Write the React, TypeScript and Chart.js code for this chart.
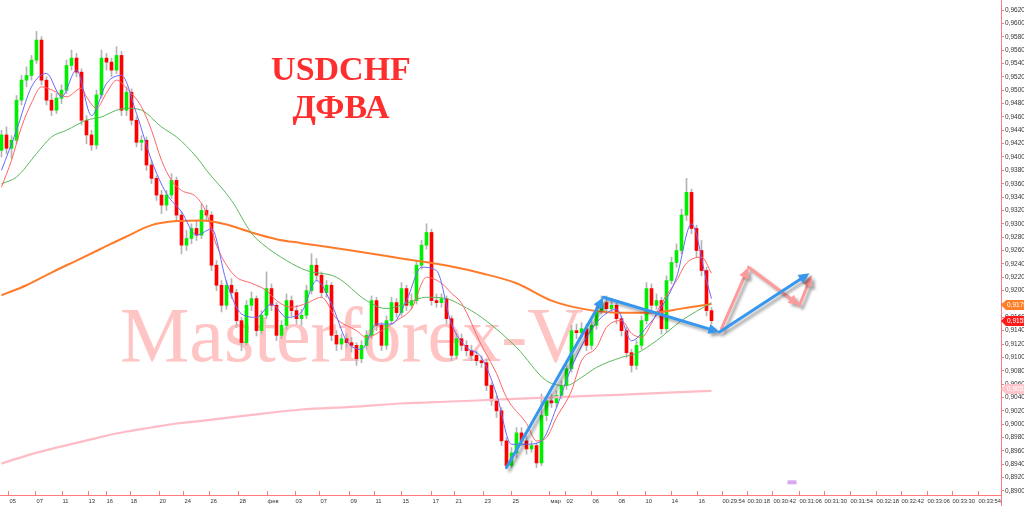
import React, { useEffect, useRef } from 'react';
import { Chart, registerables } from 'chart.js';

Chart.register(...registerables);

// prices are stored in pips (price * 10000)
const PIP = 10000;
const firstOpenPips = 9410;
const closePips = [
  9433, 9413, 9425, 9485, 9515, 9522, 9545, 9575, 9515, 9485,
  9470, 9488, 9500, 9537, 9548, 9527, 9455, 9433, 9418, 9493,
  9548, 9542, 9530, 9552, 9470, 9497, 9455, 9422, 9425, 9388,
  9368, 9343, 9328, 9343, 9365, 9313, 9268, 9278, 9293, 9283,
  9320, 9313, 9238, 9208, 9178, 9208, 9197, 9155, 9122, 9178,
  9188, 9140, 9163, 9203, 9178, 9133, 9148, 9185, 9170, 9158,
  9163, 9200, 9238, 9223, 9197, 9208, 9133, 9120, 9128, 9122,
  9118, 9098, 9118, 9133, 9185, 9148, 9118, 9155, 9182, 9167,
  9203, 9178, 9185, 9238, 9268, 9287, 9185, 9182, 9188, 9158,
  9103, 9128, 9118, 9110, 9103, 9095, 9092, 9058, 9035, 9020,
  8975, 8938, 8957, 8987, 8975, 8963, 8968, 8942, 9013, 9035,
  9032, 9043, 9058, 9083, 9140, 9137, 9143, 9118, 9148, 9170,
  9182, 9173, 9178, 9158, 9140, 9107, 9088, 9118, 9155, 9203,
  9178, 9185, 9143, 9215, 9242, 9260, 9313, 9347, 9293, 9260,
  9230, 9170, 9155,
];
const highPips = [
  9440, 9445, 9432, 9492, 9522, 9535, 9552, 9588, 9580, 9520,
  9495, 9495, 9508, 9545, 9560, 9555, 9532, 9462, 9440, 9500,
  9560, 9555, 9548, 9565, 9558, 9505, 9502, 9460, 9432, 9430,
  9395, 9372, 9350, 9350, 9375, 9370, 9318, 9290, 9300, 9305,
  9330, 9328, 9318, 9245, 9215, 9215, 9218, 9202, 9160, 9185,
  9198, 9192, 9170, 9228, 9210, 9182, 9155, 9195, 9192, 9178,
  9172, 9208, 9255, 9248, 9228, 9215, 9212, 9140, 9135, 9135,
  9130, 9122, 9125, 9140, 9192, 9190, 9152, 9162, 9190, 9188,
  9212, 9208, 9195, 9245, 9275, 9300, 9292, 9195, 9195, 9192,
  9162, 9135, 9135, 9125, 9118, 9110, 9102, 9098, 9062, 9042,
  9025, 8980, 8965, 8995, 8995, 8982, 8975, 8972, 9045, 9042,
  9045, 9050, 9065, 9090, 9148, 9150, 9152, 9150, 9155, 9178,
  9192, 9192, 9188, 9182, 9162, 9145, 9112, 9125, 9162, 9212,
  9210, 9195, 9190, 9222, 9250, 9270, 9322, 9368, 9352, 9298,
  9275, 9235, 9175,
];
const lowPips = [
  9400, 9405, 9398, 9420, 9478, 9505, 9515, 9540, 9508, 9478,
  9462, 9465, 9480, 9495, 9530, 9520, 9448, 9420, 9410, 9412,
  9488, 9530, 9520, 9525, 9462, 9462, 9448, 9415, 9410, 9380,
  9360, 9335, 9315, 9320, 9338, 9305, 9255, 9260, 9270, 9275,
  9278, 9305, 9230, 9200, 9168, 9172, 9188, 9145, 9110, 9118,
  9170, 9132, 9135, 9158, 9170, 9125, 9128, 9142, 9162, 9150,
  9148, 9158, 9195, 9215, 9190, 9190, 9125, 9110, 9112, 9115,
  9108, 9088, 9092, 9112, 9128, 9140, 9110, 9112, 9150, 9160,
  9162, 9170, 9172, 9180, 9232, 9262, 9178, 9175, 9175, 9150,
  9095, 9098, 9110, 9102, 9095, 9088, 9085, 9050, 9028, 9010,
  8968, 8935, 8935, 8950, 8968, 8955, 8958, 8935, 8938, 9005,
  9025, 9025, 9038, 9052, 9078, 9128, 9130, 9110, 9112, 9142,
  9165, 9165, 9168, 9150, 9132, 9100, 9078, 9082, 9112, 9150,
  9170, 9172, 9135, 9138, 9210, 9235, 9255, 9305, 9285, 9250,
  9222, 9162, 9150,
];

// moving averages (bar index, pips)
const blueIdx = [0, 3, 6, 9, 12, 15, 18, 21, 24, 27, 30, 33, 36, 39, 42, 45, 48, 51, 54, 57, 60, 63, 66, 69, 72, 75, 78, 81, 84, 87, 90, 93, 96, 99, 102, 105, 108, 111, 114, 117, 120, 123, 126, 129, 132, 135, 138, 141, 142];
const bluePips = [9380, 9440, 9505, 9525, 9490, 9530, 9462, 9510, 9522, 9465, 9395, 9345, 9318, 9283, 9292, 9213, 9165, 9160, 9180, 9160, 9168, 9215, 9180, 9125, 9112, 9150, 9150, 9185, 9235, 9230, 9150, 9115, 9100, 9045, 8970, 8970, 8975, 9025, 9085, 9130, 9160, 9172, 9125, 9145, 9175, 9220, 9300, 9215, 9188];

const redIdx = [0, 2, 4, 6, 8, 11, 13, 16, 17, 19, 21, 23, 25, 28, 30, 32, 34, 36, 39, 41, 43, 45, 47, 50, 53, 55, 58, 61, 64, 67, 71, 73, 76, 79, 82, 85, 88, 90, 92, 96, 99, 101, 105, 107, 109, 111, 114, 116, 119, 121, 124, 126, 128, 130, 132, 135, 137, 140, 142];
const redPips = [9355, 9395, 9445, 9481, 9505, 9497, 9490, 9503, 9490, 9473, 9496, 9515, 9503, 9475, 9440, 9395, 9365, 9350, 9340, 9316, 9268, 9238, 9220, 9211, 9200, 9185, 9175, 9181, 9190, 9158, 9140, 9130, 9140, 9155, 9173, 9220, 9211, 9196, 9181, 9118, 9076, 9040, 9001, 8975, 8980, 9010, 9050, 9095, 9115, 9145, 9155, 9136, 9130, 9151, 9181, 9215, 9241, 9250, 9226];

const greenIdx = [0, 3, 7, 10, 13, 17, 20, 23, 25, 28, 32, 35, 39, 41, 46, 50, 52, 57, 61, 67, 73, 77, 81, 85, 89, 92, 96, 103, 109, 113, 116, 119, 124, 127, 131, 136, 142];
const greenPips = [9360, 9370, 9405, 9430, 9440, 9455, 9460, 9470, 9473, 9470, 9445, 9430, 9400, 9380, 9335, 9286, 9271, 9245, 9230, 9220, 9185, 9173, 9181, 9190, 9188, 9178, 9160, 9115, 9065, 9058, 9070, 9085, 9100, 9106, 9125, 9155, 9182];

const orangeIdx = [0, 5, 10, 15, 20, 25, 30, 35, 40, 45, 50, 55, 60, 70, 80, 90, 96, 103, 110, 116, 123, 130, 136, 142];
const orangePips = [9193, 9208, 9227, 9245, 9263, 9281, 9298, 9304, 9305, 9299, 9287, 9277, 9271, 9260, 9248, 9236, 9226, 9211, 9185, 9173, 9167, 9167, 9173, 9180];

const pinkIdx = [0, 5, 10, 15, 20, 25, 30, 35, 40, 50, 60, 70, 80, 90, 100, 110, 120, 130, 142];
const pinkPips = [8941, 8953, 8963, 8972, 8981, 8989, 8995, 9001, 9005, 9014, 9022, 9026, 9031, 9034, 9037, 9040, 9043, 9046, 9050];

// drawn arrows (bar index, pips)
const blueArrowIdx = [101, 120.4, 143.6, 161.6];
const blueArrowPips = [8935, 9190, 9138, 9226];
const pinkArrowIdx = [144, 149.4, 159.6, 162];
const pinkArrowPips = [9143, 9235, 9178, 9223];
const markerIdx = [157.2, 159.0];
const markerPips = [8916, 8910];

// axis ticks
const xTickIdx = [1.4, 6.8, 12, 17.2, 20.8, 25.6, 31.4, 36.4, 41.6, 47.4, 53, 58.6, 63.6, 69.6, 74.6, 80, 86, 90.6, 96.4, 102, 109.6, 112.8, 118, 123.2, 128.6, 133.8, 139.2, 144, 149, 154.2, 159.4, 164.4, 169.6, 174.8, 179.8, 185, 190, 195.2];
const xTickText = ['05', '07', '11', '13', '16', '18', '20', '24', '26', '28', 'фев', '03', '07', '09', '11', '15', '17', '21', '23', '25', 'мар', '02', '06', '08', '10', '14', '16', '00:29:54', '00:30:18', '00:30:42', '00:31:06', '00:31:30', '00:31:54', '00:32:18', '00:32:42', '00:33:06', '00:33:30', '00:33:54'];
const yTickValues = [0.8900, 0.8920, 0.8940, 0.8960, 0.8980, 0.9000, 0.9020, 0.9040, 0.9060, 0.9080, 0.9100, 0.9120, 0.9140, 0.9160, 0.9180, 0.9200, 0.9220, 0.9240, 0.9260, 0.9280, 0.9300, 0.9320, 0.9340, 0.9360, 0.9380, 0.9400, 0.9420, 0.9440, 0.9460, 0.9480, 0.9500, 0.9520, 0.9540, 0.9560, 0.9580, 0.9600, 0.9620];

const tagValues = [0.9179, 0.9155, 0.9052];
const tagColors = ['#ff7f27', '#ff1a1a', '#ffc4cc'];
const titleLines = ['USDCHF', 'ДФВА'];
const watermark = 'Masterforex-V';

const fmt = (v: number) => v.toFixed(4).replace('.', ',');

export default function App() {
  const ref = useRef<HTMLCanvasElement | null>(null);

  useEffect(() => {
    if (!ref.current) return;
    const opens = closePips.map((c, i) => (i === 0 ? firstOpenPips : closePips[i - 1]));
    const pts = (idx: number[], v: number[]) => idx.map((x, k) => ({ x, y: v[k] / PIP }));

    const bgPlugin = {
      id: 'bgText',
      beforeDatasetsDraw(chart: any) {
        const ctx = chart.ctx;
        ctx.save();
        ctx.fillStyle = '#ffc4c4';
        ctx.font = '78px "Liberation Serif", "Times New Roman", serif';
        ctx.textBaseline = 'alphabetic';
        ctx.textAlign = 'left';
        ctx.fillText(watermark, 120, 361);
        ctx.fillStyle = '#ff2e2e';
        ctx.font = 'bold 34px "Liberation Serif", "Times New Roman", serif';
        ctx.textAlign = 'center';
        ctx.fillText(titleLines[0], 341, 80);
        ctx.fillText(titleLines[1], 341, 118);
        ctx.restore();
      },
    };

    const arrowPlugin = {
      id: 'arrows',
      afterDatasetsDraw(chart: any) {
        const ctx = chart.ctx;
        const xs = chart.scales.x;
        const ys = chart.scales.y;
        const drawPath = (idx: number[], pips: number[], color: string) => {
          for (let k = 0; k < idx.length - 1; k++) {
            const x1 = xs.getPixelForValue(idx[k]);
            const y1 = ys.getPixelForValue(pips[k] / PIP);
            const x2 = xs.getPixelForValue(idx[k + 1]);
            const y2 = ys.getPixelForValue(pips[k + 1] / PIP);
            const a = Math.atan2(y2 - y1, x2 - x1);
            const head = 11;
            const hw = 5;
            const bx = x2 - head * Math.cos(a);
            const by = y2 - head * Math.sin(a);
            ctx.save();
            ctx.shadowColor = 'rgba(0,0,0,0.35)';
            ctx.shadowBlur = 3;
            ctx.shadowOffsetX = 3;
            ctx.shadowOffsetY = 3;
            ctx.strokeStyle = color;
            ctx.fillStyle = color;
            ctx.lineWidth = 3;
            ctx.lineCap = 'round';
            ctx.beginPath();
            ctx.moveTo(x1, y1);
            ctx.lineTo(bx, by);
            ctx.stroke();
            ctx.beginPath();
            ctx.moveTo(x2, y2);
            ctx.lineTo(bx + hw * Math.sin(a), by - hw * Math.cos(a));
            ctx.lineTo(bx - hw * Math.sin(a), by + hw * Math.cos(a));
            ctx.closePath();
            ctx.fill();
            ctx.restore();
          }
        };
        drawPath(pinkArrowIdx, pinkArrowPips, '#ff9a9a');
        drawPath(blueArrowIdx, blueArrowPips, '#3797ee');
        const mx1 = xs.getPixelForValue(markerIdx[0]);
        const mx2 = xs.getPixelForValue(markerIdx[1]);
        const my1 = ys.getPixelForValue(markerPips[0] / PIP);
        const my2 = ys.getPixelForValue(markerPips[1] / PIP);
        ctx.save();
        ctx.fillStyle = '#d7a8f0';
        ctx.fillRect(mx1, my1, mx2 - mx1, my2 - my1);
        ctx.restore();
      },
    };

    const axisPlugin = {
      id: 'axisDeco',
      afterDraw(chart: any) {
        const ctx = chart.ctx;
        const xs = chart.scales.x;
        const ys = chart.scales.y;
        const area = chart.chartArea;
        ctx.save();
        ctx.strokeStyle = '#ff7a7a';
        ctx.lineWidth = 1;
        ctx.beginPath();
        xTickIdx.forEach((v) => {
          const px = Math.round(xs.getPixelForValue(v)) + 0.5;
          ctx.moveTo(px, area.bottom);
          ctx.lineTo(px, area.bottom - 4);
        });
        ctx.moveTo(area.right + 0.5, area.bottom);
        ctx.lineTo(area.right + 0.5, chart.height);
        ctx.stroke();
        // price tags
        ctx.font = '6.5px "Liberation Sans", Arial, sans-serif';
        ctx.textBaseline = 'middle';
        ctx.textAlign = 'left';
        tagValues.forEach((v, k) => {
          const y = Math.round(ys.getPixelForValue(v));
          const x0 = area.right;
          ctx.fillStyle = tagColors[k];
          ctx.beginPath();
          ctx.moveTo(x0, y);
          ctx.lineTo(x0 + 5, y - 5);
          ctx.lineTo(chart.width, y - 5);
          ctx.lineTo(chart.width, y + 5);
          ctx.lineTo(x0 + 5, y + 5);
          ctx.closePath();
          ctx.fill();
          ctx.fillStyle = '#ffffff';
          ctx.fillText(fmt(v), x0 + 6, y + 0.5);
        });
        ctx.restore();
      },
    };

    const chart = new Chart(ref.current, {
      type: 'bar',
      data: {
        datasets: [
          {
            type: 'bar',
            label: 'wicks',
            data: closePips.map((_, i) => ({ x: i, y: [lowPips[i] / PIP, highPips[i] / PIP] })) as any,
            backgroundColor: '#b4b4b4',
            barThickness: 1,
            grouped: false,
            order: 20,
          } as any,
          {
            type: 'bar',
            label: 'bodies',
            data: closePips.map((c, i) => ({ x: i, y: [opens[i] / PIP, c / PIP] })) as any,
            backgroundColor: closePips.map((c, i) => (c >= opens[i] ? '#00ee00' : '#ff0000')),
            barThickness: 3,
            minBarLength: 1,
            grouped: false,
            order: 19,
          } as any,
          {
            type: 'line',
            label: 'ma-pink',
            data: pts(pinkIdx, pinkPips),
            borderColor: '#ffbcc6',
            borderWidth: 2.2,
            pointRadius: 0,
            cubicInterpolationMode: 'monotone',
            order: 5,
          } as any,
          {
            type: 'line',
            label: 'ma-orange',
            data: pts(orangeIdx, orangePips),
            borderColor: '#ff7b2a',
            borderWidth: 2,
            pointRadius: 0,
            cubicInterpolationMode: 'monotone',
            order: 4,
          } as any,
          {
            type: 'line',
            label: 'ma-green',
            data: pts(greenIdx, greenPips),
            borderColor: '#5cb85c',
            borderWidth: 1,
            pointRadius: 0,
            cubicInterpolationMode: 'monotone',
            order: 3,
          } as any,
          {
            type: 'line',
            label: 'ma-red',
            data: pts(redIdx, redPips),
            borderColor: '#ff6464',
            borderWidth: 1,
            pointRadius: 0,
            cubicInterpolationMode: 'monotone',
            order: 2,
          } as any,
          {
            type: 'line',
            label: 'ma-blue',
            data: pts(blueIdx, bluePips),
            borderColor: '#6868ff',
            borderWidth: 1,
            pointRadius: 0,
            cubicInterpolationMode: 'monotone',
            order: 1,
          } as any,
        ],
      },
      options: {
        responsive: false,
        animation: false,
        events: [],
        layout: { padding: 0 },
        plugins: { legend: { display: false }, tooltip: { enabled: false } },
        scales: {
          x: {
            type: 'linear',
            min: -0.3,
            max: 199.9,
            offset: false,
            grid: { display: false, drawTicks: false, tickLength: 0 },
            border: { display: true, color: '#ff7a7a', width: 1 },
            afterBuildTicks: (s: any) => {
              s.ticks = xTickIdx.map((v) => ({ value: v }));
            },
            afterFit: (s: any) => {
              s.height = 11;
              s.paddingLeft = 0;
              s.paddingRight = 0;
            },
            ticks: {
              autoSkip: false,
              maxRotation: 0,
              minRotation: 0,
              align: 'start',
              padding: 3,
              labelOffset: 1,
              color: '#333333',
              font: { family: '"Liberation Sans", Arial, sans-serif', size: 5.8 },
              callback: (_v: any, i: number) => xTickText[i],
            },
          },
          y: {
            type: 'linear',
            position: 'right',
            min: 0.8894,
            max: 0.9635,
            grid: { display: true, drawOnChartArea: false, drawTicks: true, tickLength: 3, color: '#ff7a7a' },
            border: { display: true, color: '#ff7a7a', width: 1 },
            afterBuildTicks: (s: any) => {
              s.ticks = yTickValues.map((v) => ({ value: v }));
            },
            afterFit: (s: any) => {
              s.width = 23;
              s.paddingTop = 0;
              s.paddingBottom = 0;
            },
            ticks: {
              padding: 1,
              color: '#333333',
              font: { family: '"Liberation Sans", Arial, sans-serif', size: 6.5 },
              callback: (v: any) => fmt(Number(v)),
            },
          },
        },
      } as any,
      plugins: [bgPlugin, arrowPlugin, axisPlugin],
    });
    return () => chart.destroy();
  }, []);

  return (
    <div style={{ position: 'absolute', left: 0, top: 0, width: 1024, height: 506, background: '#ffffff' }}>
      <canvas ref={ref} width={1024} height={506} style={{ display: 'block' }} />
    </div>
  );
}
